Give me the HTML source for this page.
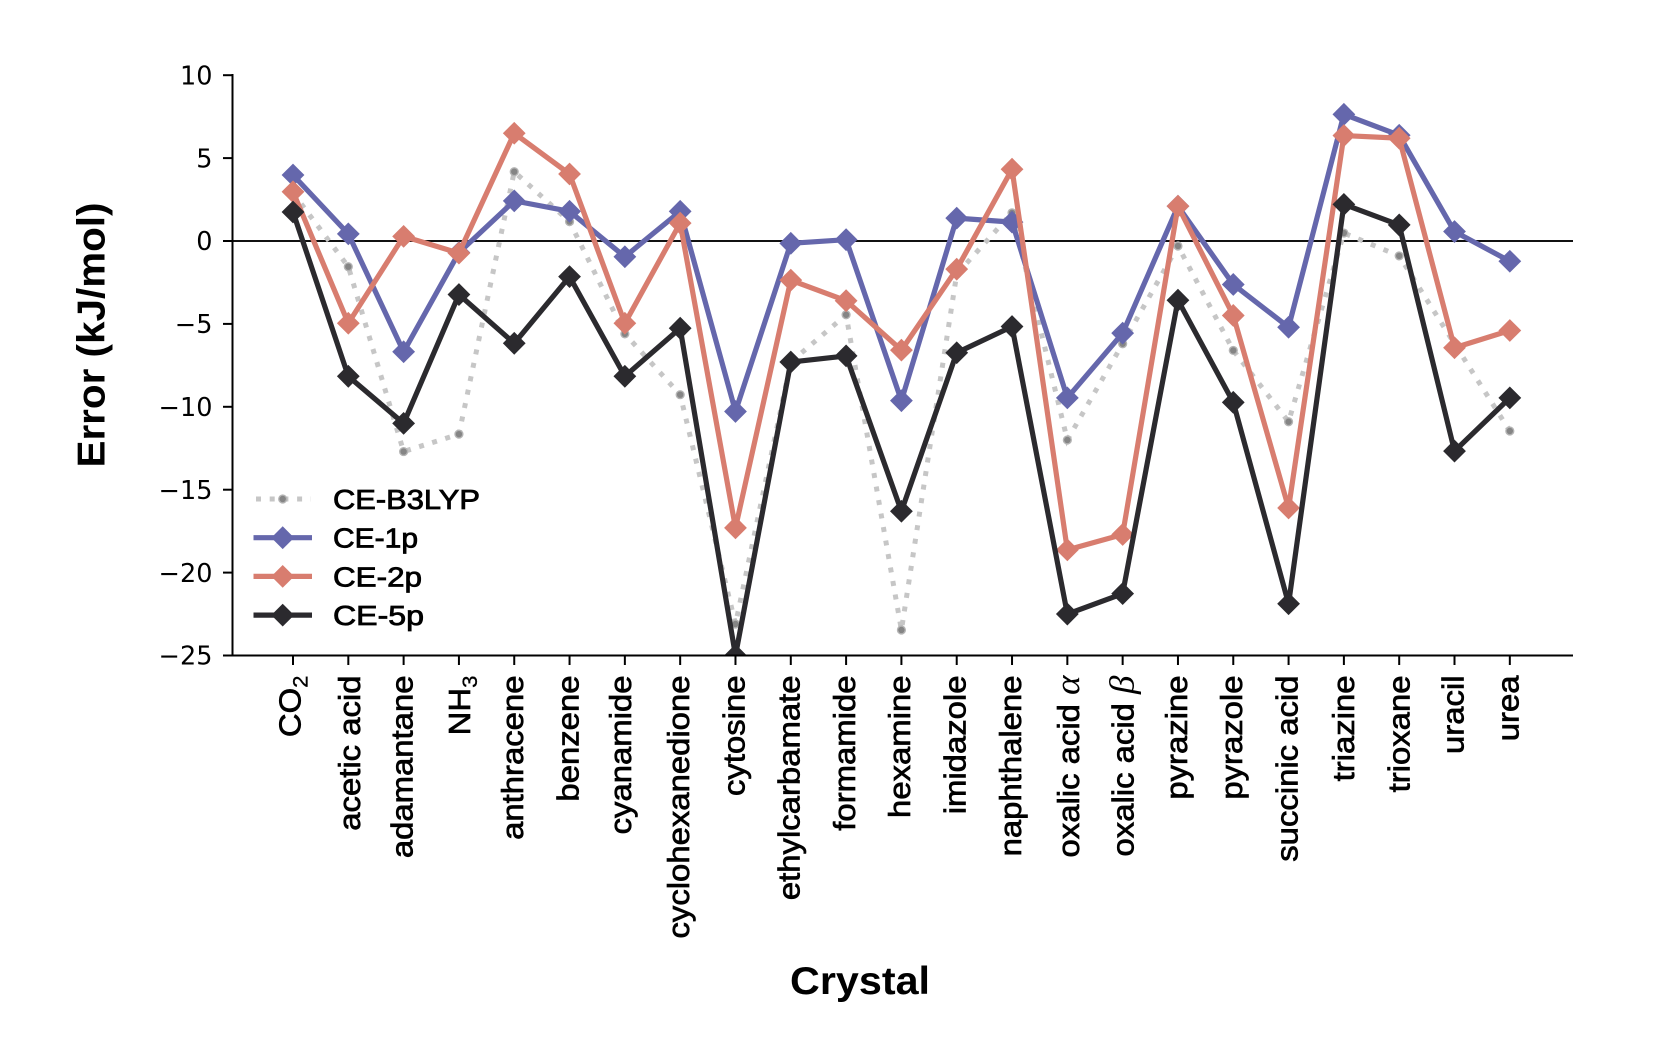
<!DOCTYPE html>
<html lang="en">
<head>
<meta charset="utf-8">
<title>Crystal lattice energy error chart</title>
<style>
html,body{margin:0;padding:0;background:#fff;}
svg{display:block;}
text{font-family:"Liberation Sans",sans-serif;fill:#000;}
.ytick{font-family:"DejaVu Sans",sans-serif;font-size:25.5px;}
.xtick{font-size:31px;stroke:#000;stroke-width:.7px;}
.legend-text{font-size:28px;stroke:#000;stroke-width:.8px;}
.title{font-size:39px;font-weight:bold;}
</style>
</head>
<body>
<svg id="chart" xmlns="http://www.w3.org/2000/svg" width="1653" height="1056" viewBox="0 0 1653 1056">
  <defs>
    <clipPath id="plot-clip"><rect x="232" y="75" width="1341" height="580.5"></rect></clipPath>
  </defs>
  <rect x="0" y="0" width="1653" height="1056" fill="#fff"></rect>
  <g id="zero-layer"></g>
  <g id="series-layer" clip-path="url(#plot-clip)"></g>
  <g id="axis-layer"></g>
  <g id="legend-layer"></g>
  <text class="title" text-anchor="middle" transform="translate(104.5 335) rotate(-90)" textLength="265" lengthAdjust="spacingAndGlyphs">Error (kJ/mol)</text>
  <text class="title" text-anchor="middle" x="860" y="994" textLength="140" lengthAdjust="spacingAndGlyphs">Crystal</text>
</svg>
<script>
const categories = ["CO_2","acetic acid","adamantane","NH_3","anthracene","benzene","cyanamide","cyclohexanedione","cytosine","ethylcarbamate","formamide","hexamine","imidazole","naphthalene","oxalic acid ~α","oxalic acid ~β","pyrazine","pyrazole","succinic acid","triazine","trioxane","uracil","urea"];
const yTickValues = [10,5,0,-5,-10,-15,-20,-25];
const ceB3lyp = [2.9,-1.55,-12.7,-11.65,4.18,1.17,-5.6,-9.27,-23.1,-7.3,-4.45,-23.46,-2.0,1.7,-12.0,-6.2,-0.3,-6.6,-10.9,0.48,-0.9,-6.2,-11.46];
const ce1p = [3.98,0.43,-6.68,-0.7,2.42,1.79,-0.95,1.79,-10.28,-0.14,0.08,-9.63,1.38,1.14,-9.46,-5.56,2.1,-2.62,-5.2,7.64,6.38,0.57,-1.22];
const ce2p = [2.97,-4.96,0.28,-0.73,6.5,4.04,-4.96,1.08,-17.3,-2.36,-3.6,-6.58,-1.7,4.33,-18.63,-17.7,2.1,-4.49,-16.1,6.36,6.2,-6.44,-5.4];
const ce5p = [1.75,-8.16,-11,-3.23,-6.17,-2.15,-8.16,-5.26,-25,-7.3,-6.93,-16.3,-6.74,-5.16,-22.5,-21.27,-3.57,-9.73,-21.88,2.21,0.97,-12.67,-9.46];
const seriesNames = ["CE-B3LYP","CE-1p","CE-2p","CE-5p"];

const NS = "http://www.w3.org/2000/svg";
const xScale = i => 293 + i * 55.31;
const yScale = v => 241 - v * 16.58;
const DIAMOND = 11.4;
const colors = {blue:"#6567ac",coral:"#d87d6f",dark:"#2b2a2e"};

function make(tag, parent, attrs) {
  const el = document.createElementNS(NS, tag);
  for (const k in attrs) el.setAttribute(k, attrs[k]);
  parent.appendChild(el);
  return el;
}
function diamondPoints(cx, cy, r) {
  return [[cx,cy-r],[cx+r,cy],[cx,cy+r],[cx-r,cy]].map(p => p.join(",")).join(" ");
}

/* axes */
const zeroLayer = document.getElementById("zero-layer");
const zeroLine = make("line", zeroLayer, {x1:232,x2:1573,y1:yScale(0),y2:yScale(0),stroke:"#111","stroke-width":2});



const axis = document.getElementById("axis-layer");
const leftSpine = make("line", axis, {x1:232.5,x2:232.5,y1:74,y2:656,stroke:"#000","stroke-width":2});


const bottomSpine = make("line", axis, {x1:232,x2:1573,y1:655.5,y2:655.5,stroke:"#000","stroke-width":2});



yTickValues.forEach(v => {
  const y = yScale(v);
  const tick = make("line", axis, {x1:223,x2:232,y1:y,y2:y,stroke:"#000","stroke-width":2});
  
  
  const label = make("text", axis, {class:"ytick",x:212.5,y:y+9.2,"text-anchor":"end"});
  
  
  label.textContent = String(v).replace("-", "\u2212");
});

categories.forEach((name, i) => {
  const x = xScale(i);
  const tick = make("line", axis, {x1:x,x2:x,y1:655,y2:665,stroke:"#000","stroke-width":2});
  
  
  let offset = 8.8;
  if (name === "CO_2") offset = 7.3;
  if (name === "NH_3") offset = 11;
  if (name === "acetic acid") offset = 11.5;
  if (name === "cyanamide") offset = 6;
  if (name === "oxalic acid ~α") offset = 11.5;
  if (name === "oxalic acid ~β") offset = 11;
  if (name === "triazine") offset = 10;
  if (name === "trioxane") offset = 10.5;
  const label = make("text", axis, {class:"xtick","text-anchor":"end",transform:"translate(" + (x + offset) + " 675.5) rotate(-90) scale(1.06 1)"});
  
  
  if (name.includes("_")) {
    const parts = name.split("_");
    label.appendChild(document.createTextNode(parts[0]));
    const sub = make("tspan", label, {"font-size":"21","dy":"7","stroke-width":"0.3"});
    sub.textContent = parts[1];
  } else if (name.includes("~")) {
    const parts = name.split("~");
    label.appendChild(document.createTextNode(parts[0]));
    const greek = make("tspan", label, {"font-family":"Liberation Serif, serif","font-style":"italic","font-size":"35","stroke-width":"0"});
    greek.textContent = parts[1];
  } else {
    label.textContent = name;
  }
});

/* series */
const layer = document.getElementById("series-layer");
function pointsOf(values) {
  return values.map((v, i) => xScale(i) + "," + yScale(v)).join(" ");
}
function drawSolid(values, color) {
  const g = make("g", layer, {});
  
  
  const line = make("polyline", g, {points:pointsOf(values),fill:"none",stroke:color,"stroke-width":5.2,"stroke-linejoin":"round"});
  
  
  values.forEach((v, i) => {
    const m = make("polygon", g, {points:diamondPoints(xScale(i), yScale(v), DIAMOND),fill:color});
    
    
  });
}
(function drawDotted(values) {
  const g = make("g", layer, {});
  
  
  const line = make("polyline", g, {points:pointsOf(values),fill:"none",stroke:"#c6c6c6","stroke-width":5,"stroke-dasharray":"5 8.7"});
  
  
  values.forEach((v, i) => {
    const m = make("circle", g, {cx:xScale(i),cy:yScale(v),r:3.9,fill:"#858585",stroke:"#b4b4b4","stroke-width":1.4});
    
    
  });
})(ceB3lyp);
drawSolid(ce1p, colors.blue);
drawSolid(ce2p, colors.coral);
drawSolid(ce5p, colors.dark);

/* legend */
const legend = document.getElementById("legend-layer");
const legendColors = ["#c6c6c6", colors.blue, colors.coral, colors.dark];
const legendWidths = [147, 85, 89, 91];
seriesNames.forEach((name, i) => {
  const y = 499 + i * 38.7;
  const row = make("g", legend, {});
  
  
  if (i === 0) {
    const dash = make("line", row, {x1:256,x2:311,y1:y,y2:y,stroke:legendColors[i],"stroke-width":5,"stroke-dasharray":"5 8.7"});
    
    
    const dot = make("circle", row, {cx:282.7,cy:y,r:3.9,fill:"#858585",stroke:"#b4b4b4","stroke-width":1.4});
    
    
  } else {
    const seg = make("line", row, {x1:253.5,x2:312,y1:y,y2:y,stroke:legendColors[i],"stroke-width":5.2});
    
    
    const mark = make("polygon", row, {points:diamondPoints(282.7, y, DIAMOND),fill:legendColors[i]});
    
    
  }
  const text = make("text", row, {class:"legend-text",x:333,y:y+10,textLength:legendWidths[i],lengthAdjust:"spacingAndGlyphs"});
  
  
  text.textContent = name;
});
</script>
</body>
</html>
